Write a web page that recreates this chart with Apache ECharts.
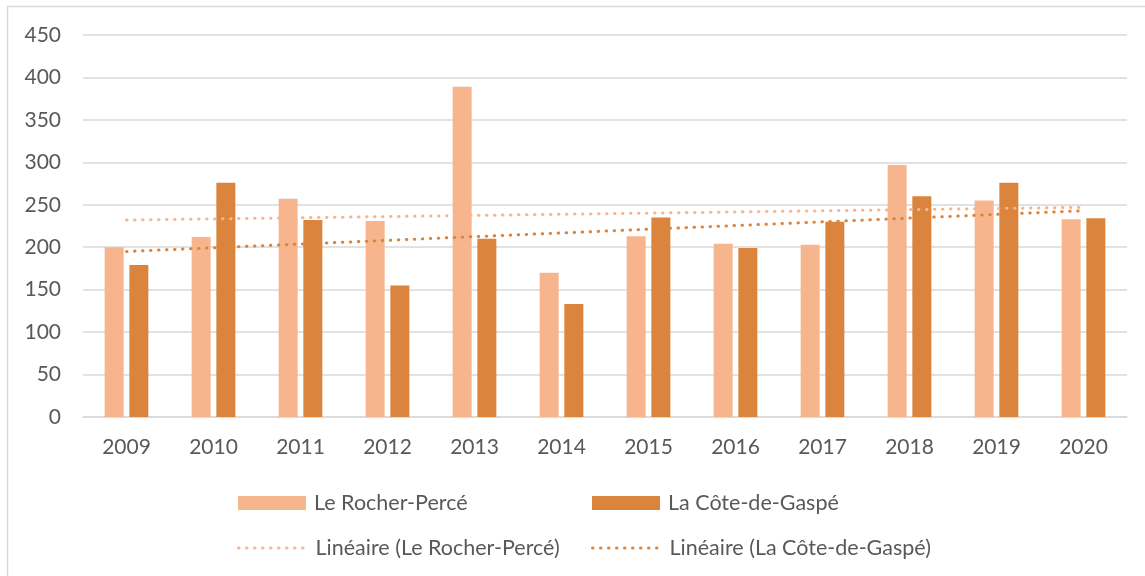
<!DOCTYPE html>
<html>
<head>
<meta charset="utf-8">
<script src="https://cdn.jsdelivr.net/npm/echarts@6/dist/echarts.min.js"></script>
<style>
  html, body { margin: 0; padding: 0; background: #fff; }
  #chart { width: 1145px; height: 576px; }
</style>
</head>
<body>
<div id="chart"></div>
<script>
// data
const years = ["2009", "2010", "2011", "2012", "2013", "2014", "2015", "2016", "2017", "2018", "2019", "2020"];
const rocherPerce = [200, 212, 257, 231, 389, 170, 213, 204, 203, 297, 255, 233];
const coteGaspe = [179, 276, 232, 155, 210, 133, 235, 199, 230, 260, 276, 234];
// trend line ends (first and last year), as drawn in the picture
const trendRocherEnds = [232, 247];
const trendGaspeEnds = [195, 243];

const LIGHT = "#F7B58E";
const DARK = "#DB843D";
const TEXT = "#595959";
const GRID = "#D9D9D9";
const FONT = "Lato";

const chart = echarts.init(document.getElementById("chart"));

function legendAt(name, left, top, opts) {
    return Object.assign({
        data: [name],
        left: left,
        top: top,
        padding: 0,
        selectedMode: false,
        itemWidth: 68,
        itemHeight: 14,
        textStyle: { color: TEXT, fontSize: 21.5, fontFamily: FONT, padding: [0, 0, 0, 3] }
    }, opts || {});
}

const dotted = { type: [0.5, 7.5], cap: "round", width: 3 };

chart.setOption({
    animation: false,
    grid: { left: 83, right: 18, top: 35, bottom: 159 },
    graphic: [{
        type: "rect",
        shape: { x: 7.5, y: 6.5, width: 1200, height: 700 },
        style: { fill: "none", stroke: GRID, lineWidth: 1.5 },
        silent: true
    }],
    legend: [
        legendAt({ name: "Le Rocher-Percé", icon: "rect" }, 238, 492),
        legendAt({ name: "La Côte-de-Gaspé", icon: "rect" }, 592, 492),
        legendAt({
            name: "Linéaire (Le Rocher-Percé)",
            itemStyle: { color: "rgba(0,0,0,0)", opacity: 0 },
            lineStyle: dotted
        }, 237, 537, { itemWidth: 66, textStyle: { color: TEXT, fontSize: 21.5, fontFamily: FONT, padding: [0, 0, 0, 6] } }),
        legendAt({
            name: "Linéaire (La Côte-de-Gaspé)",
            itemStyle: { color: "rgba(0,0,0,0)", opacity: 0 },
            lineStyle: dotted
        }, 591, 537, { itemWidth: 66, textStyle: { color: TEXT, fontSize: 21.5, fontFamily: FONT, padding: [0, 0, 0, 6] } })
    ],
    xAxis: {
        type: "category",
        data: years,
        axisLine: { lineStyle: { color: GRID, width: 1.5 } },
        axisTick: { show: false },
        axisLabel: { color: TEXT, fontSize: 21, fontFamily: FONT, margin: 20 }
    },
    yAxis: {
        type: "value",
        min: 0,
        max: 450,
        interval: 50,
        axisLine: { show: false },
        axisTick: { show: false },
        splitLine: { lineStyle: { color: GRID, width: 1.5 } },
        axisLabel: { color: TEXT, fontSize: 21, fontFamily: FONT, margin: 22 }
    },
    series: [
        {
            name: "Le Rocher-Percé",
            type: "bar",
            data: rocherPerce,
            barWidth: 19,
            barGap: "30%",
            itemStyle: { color: LIGHT }
        },
        {
            name: "La Côte-de-Gaspé",
            type: "bar",
            data: coteGaspe,
            barWidth: 19,
            barGap: "30%",
            itemStyle: { color: DARK }
        },
        {
            name: "Linéaire (Le Rocher-Percé)",
            type: "line",
            symbol: "none",
            data: [[years[0], trendRocherEnds[0]], [years[years.length - 1], trendRocherEnds[1]]],
            lineStyle: Object.assign({ color: LIGHT }, dotted),
            itemStyle: { color: LIGHT },
            z: 3
        },
        {
            name: "Linéaire (La Côte-de-Gaspé)",
            type: "line",
            symbol: "none",
            data: [[years[0], trendGaspeEnds[0]], [years[years.length - 1], trendGaspeEnds[1]]],
            lineStyle: Object.assign({ color: DARK }, dotted),
            itemStyle: { color: DARK },
            z: 3
        }
    ]
});
</script>
</body>
</html>
